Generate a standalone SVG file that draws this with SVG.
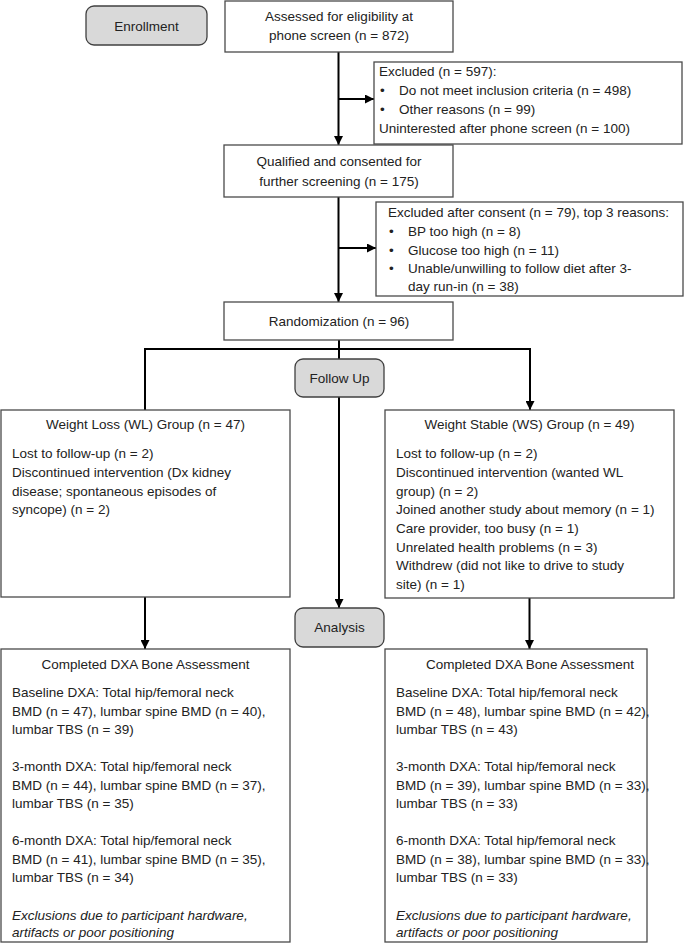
<svg xmlns="http://www.w3.org/2000/svg" width="684" height="949" viewBox="0 0 684 949">
<defs>
<style>
.box{fill:#ffffff;stroke:#4a4a4a;stroke-width:1.3}
.stage{fill:#d9d9d9;stroke:#404040;stroke-width:1.3}
.t{font-family:"Liberation Sans",Arial,sans-serif;font-size:13.5px;fill:#222}
.c{text-anchor:middle}
.i{font-style:italic}
.ln{fill:none;stroke:#000;stroke-width:2}
</style>
<marker id="ah" viewBox="0 0 10 10" refX="10" refY="5" markerWidth="4.5" markerHeight="4.5" orient="auto" markerUnits="strokeWidth">
<path d="M0,0 L10,5 L0,10 Z" fill="#000"/>
</marker>
</defs>
<rect width="684" height="949" fill="#ffffff"/>

<g id="connectors">
<line class="ln" x1="338.5" y1="52" x2="338.5" y2="145" marker-end="url(#ah)"/>
<line class="ln" x1="338.5" y1="99" x2="374" y2="99" marker-end="url(#ah)"/>
<line class="ln" x1="338.5" y1="197" x2="338.5" y2="302" marker-end="url(#ah)"/>
<line class="ln" x1="338.5" y1="248" x2="376" y2="248" marker-end="url(#ah)"/>
<line class="ln" x1="339" y1="340" x2="339" y2="608" marker-end="url(#ah)"/>
<polyline class="ln" points="145,410 145,349 530,349 530,410" marker-start="url(#ah)" marker-end="url(#ah)"/>
<line class="ln" x1="145" y1="597" x2="145" y2="649" marker-end="url(#ah)"/>
<line class="ln" x1="529.5" y1="598" x2="529.5" y2="649" marker-end="url(#ah)"/>
</g>

<g id="enrollment">
<rect class="stage" x="86" y="6" width="121" height="39" rx="8"/>
<text class="t c" x="146.5" y="30.5">Enrollment</text>
</g>

<g id="assessed">
<rect class="box" x="225" y="1" width="228" height="51"/>
<text class="t c" x="339" y="21">Assessed for eligibility at</text>
<text class="t c" x="339" y="40">phone screen (n = 872)</text>
</g>

<g id="excluded1">
<rect class="box" x="374" y="62" width="308" height="82"/>
<text class="t" x="379" y="76">Excluded (n = 597):</text>
<text class="t" x="380" y="95">•</text>
<text class="t" x="399" y="95">Do not meet inclusion criteria (n = 498)</text>
<text class="t" x="380" y="114">•</text>
<text class="t" x="399" y="114">Other reasons (n = 99)</text>
<text class="t" x="379" y="133">Uninterested after phone screen (n = 100)</text>
</g>

<g id="qualified">
<rect class="box" x="224" y="145" width="229" height="52"/>
<text class="t c" x="339" y="166">Qualified and consented for</text>
<text class="t c" x="339" y="186">further screening (n = 175)</text>
</g>

<g id="excluded2">
<rect class="box" x="376" y="202" width="307" height="94"/>
<text class="t" x="388" y="217">Excluded after consent (n = 79), top 3 reasons:</text>
<text class="t" x="389" y="236">•</text>
<text class="t" x="408" y="236">BP too high (n = 8)</text>
<text class="t" x="389" y="254.5">•</text>
<text class="t" x="408" y="254.5">Glucose too high (n = 11)</text>
<text class="t" x="389" y="273">•</text>
<text class="t" x="408" y="273">Unable/unwilling to follow diet after 3-</text>
<text class="t" x="408" y="291">day run-in (n = 38)</text>
</g>

<g id="randomization">
<rect class="box" x="224" y="302" width="229" height="38"/>
<text class="t c" x="339" y="325.5">Randomization (n = 96)</text>
</g>

<g id="followup">
<rect class="stage" x="295" y="359" width="89" height="38" rx="8"/>
<text class="t c" x="339.5" y="382.5">Follow Up</text>
</g>

<g id="wl-group">
<rect class="box" x="1" y="410" width="289" height="187"/>
<text class="t c" x="145.5" y="429">Weight Loss (WL) Group (n = 47)</text>
<text class="t" x="12" y="458">Lost to follow-up (n = 2)</text>
<text class="t" x="12" y="477">Discontinued intervention (Dx kidney</text>
<text class="t" x="12" y="495.5">disease; spontaneous episodes of</text>
<text class="t" x="12" y="514">syncope) (n = 2)</text>
</g>

<g id="ws-group">
<rect class="box" x="385" y="410" width="289" height="188"/>
<text class="t c" x="529.5" y="429">Weight Stable (WS) Group (n = 49)</text>
<text class="t" x="396" y="458">Lost to follow-up (n = 2)</text>
<text class="t" x="396" y="477">Discontinued intervention (wanted WL</text>
<text class="t" x="396" y="495.5">group) (n = 2)</text>
<text class="t" x="396" y="514">Joined another study about memory (n = 1)</text>
<text class="t" x="396" y="533">Care provider, too busy (n = 1)</text>
<text class="t" x="396" y="551.5">Unrelated health problems (n = 3)</text>
<text class="t" x="396" y="570">Withdrew (did not like to drive to study</text>
<text class="t" x="396" y="589">site) (n = 1)</text>
</g>

<g id="analysis">
<rect class="stage" x="295" y="608" width="89" height="39" rx="8"/>
<text class="t c" x="339.5" y="631.5">Analysis</text>
</g>

<g id="wl-dxa">
<rect class="box" x="1" y="649" width="289" height="293"/>
<text class="t c" x="145.5" y="669">Completed DXA Bone Assessment</text>
<text class="t" x="12" y="697">Baseline DXA: Total hip/femoral neck</text>
<text class="t" x="12" y="715.5">BMD (n = 47), lumbar spine BMD (n = 40),</text>
<text class="t" x="12" y="734">lumbar TBS (n = 39)</text>
<text class="t" x="12" y="771">3-month DXA: Total hip/femoral neck</text>
<text class="t" x="12" y="789.5">BMD (n = 44), lumbar spine BMD (n = 37),</text>
<text class="t" x="12" y="808">lumbar TBS (n = 35)</text>
<text class="t" x="12" y="845">6-month DXA: Total hip/femoral neck</text>
<text class="t" x="12" y="863.5">BMD (n = 41), lumbar spine BMD (n = 35),</text>
<text class="t" x="12" y="882">lumbar TBS (n = 34)</text>
<text class="t i" x="12" y="919.5">Exclusions due to participant hardware,</text>
<text class="t i" x="12" y="937">artifacts or poor positioning</text>
</g>

<g id="ws-dxa">
<rect class="box" x="385" y="649" width="262" height="293"/>
<text class="t c" x="530" y="669">Completed DXA Bone Assessment</text>
<text class="t" x="396" y="697">Baseline DXA: Total hip/femoral neck</text>
<text class="t" x="396" y="715.5">BMD (n = 48), lumbar spine BMD (n = 42),</text>
<text class="t" x="396" y="734">lumbar TBS (n = 43)</text>
<text class="t" x="396" y="771">3-month DXA: Total hip/femoral neck</text>
<text class="t" x="396" y="789.5">BMD (n = 39), lumbar spine BMD (n = 33),</text>
<text class="t" x="396" y="808">lumbar TBS (n = 33)</text>
<text class="t" x="396" y="845">6-month DXA: Total hip/femoral neck</text>
<text class="t" x="396" y="863.5">BMD (n = 38), lumbar spine BMD (n = 33),</text>
<text class="t" x="396" y="882">lumbar TBS (n = 33)</text>
<text class="t i" x="396" y="919.5">Exclusions due to participant hardware,</text>
<text class="t i" x="396" y="937">artifacts or poor positioning</text>
</g>
</svg>
